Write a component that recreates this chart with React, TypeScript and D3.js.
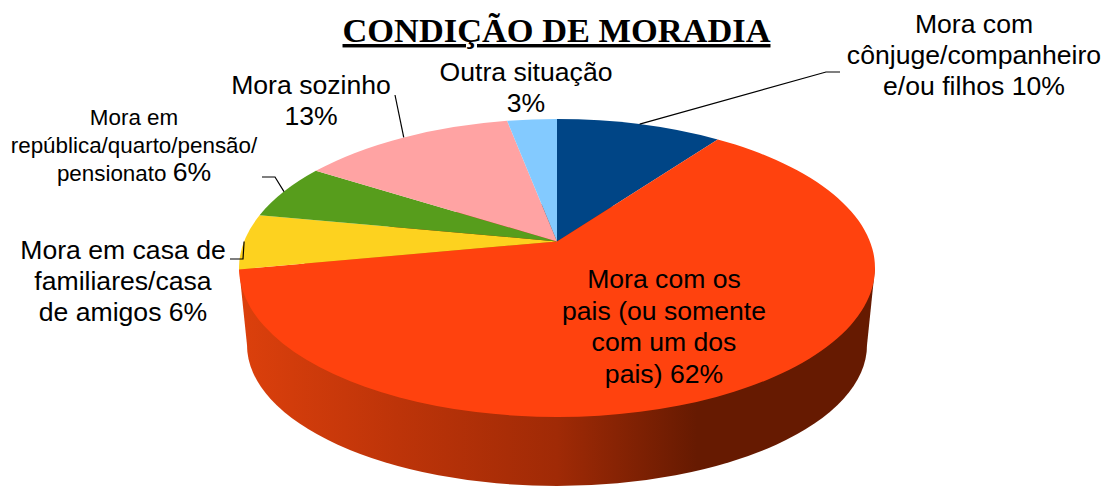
import React from "react";
import * as d3 from "d3";

const categories = [
  "Mora com cônjuge/companheiro e/ou filhos",
  "Mora com os pais (ou somente com um dos pais)",
  "Mora em casa de familiares/casa de amigos",
  "Mora em república/quarto/pensão/pensionato",
  "Mora sozinho",
  "Outra situação",
];
const values = [10, 62, 6, 6, 13, 3];
const colors = ["#004586", "#ff420e", "#fdd21f", "#579d1c", "#ffa3a3", "#83caff"];
const titleText = "CONDIÇÃO DE MORADIA";

const W = 1105, H = 486;
const cx = 557, cy = 268, rx = 318, ry = 149;
const bx = 310, by = 345, bry = 141; // base ellipse of the 3D wall
const persp = 0.835; // perspective squeeze of the tilted disc

// tilted-disc projection: pie angle -> angle on the drawn ellipse
const project = (a: number) => 2 * Math.atan(persp * Math.tan(a / 2));
const onRim = (a: number): [number, number] => {
  const t = project(a);
  return [cx + rx * Math.sin(t), cy - ry * Math.cos(t)];
};
const apex = onRim(Math.PI / 2)[1];

const arcs = d3.pie<number>().sort(null)(values);

const slicePath = (a0: number, a1: number) => {
  const [x0, y0] = onRim(a0);
  const [x1, y1] = onRim(a1);
  const large = project(a1) - project(a0) < 0
    ? (project(a1) + 2 * Math.PI - project(a0) > Math.PI ? 1 : 0)
    : (project(a1) - project(a0) > Math.PI ? 1 : 0);
  return `M${cx},${apex}L${x0},${y0}A${rx},${ry} 0 ${large} 1 ${x1},${y1}Z`;
};

const mids = arcs.map((d) => onRim((d.startAngle + d.endAngle) / 2));

type Label = { x: number; y: number; size: number; lines: (string | [string, string])[]; lh: number };
const labels: Label[] = [
  { x: 974, y: 33, size: 26.6, lh: 31, lines: ["Mora com", "cônjuge/companheiro", "e/ou filhos 10%"] },
  { x: 664, y: 288, size: 26.6, lh: 31.5, lines: ["Mora com os", "pais (ou somente", "com um dos", "pais) 62%"] },
  { x: 123, y: 259, size: 26.6, lh: 31, lines: ["Mora em casa de", "familiares/casa", "de amigos 6%"] },
  { x: 134, y: 125, size: 22.4, lh: 28, lines: ["Mora em", "república/quarto/pensão/", ["pensionato ", "6%"]] },
  { x: 311, y: 94, size: 26.6, lh: 31, lines: ["Mora sozinho", "13%"] },
  { x: 526, y: 81, size: 26.6, lh: 31, lines: ["Outra situação", "3%"] },
];

const leaders: ([number, number] | null)[][] = [
  [[840, 72], [826, 72], null],
  [],
  [[230, 259], [243, 259], null],
  [[262, 177], [275, 177], null],
  [[395, 95], null],
  [],
];

export default function App() {
  const line = d3.line();
  return (
    <svg
      width={W}
      height={H}
      viewBox={`0 0 ${W} ${H}`}
      style={{ position: "fixed", left: 0, top: 0, display: "block", background: "#fff" }}
      fontFamily="'Liberation Sans', Arial, sans-serif"
    >
      <defs>
        <linearGradient id="wall" gradientUnits="userSpaceOnUse" x1={cx - rx} x2={cx + rx} y1={0} y2={0}>
          <stop offset="0" stopColor="#dc400c" />
          <stop offset="0.25" stopColor="#bd3409" />
          <stop offset="0.5" stopColor="#a02a06" />
          <stop offset="0.72" stopColor="#661a01" />
          <stop offset="1" stopColor="#661a01" />
        </linearGradient>
      </defs>

      <g fill="url(#wall)">
        <ellipse cx={cx} cy={by} rx={bx} ry={bry} />
        <path d={`M${cx - rx},${cy}L${cx + rx},${cy}L${cx + bx},${by}L${cx - bx},${by}Z`} />
      </g>

      {arcs.map((d, i) => (
        <path key={categories[i]} d={slicePath(d.startAngle, d.endAngle)} fill={colors[i]} />
      ))}

      {leaders.map((pts, i) =>
        pts.length ? (
          <path
            key={i}
            d={line(pts.map((p) => p ?? mids[i]) as [number, number][]) ?? ""}
            fill="none"
            stroke="#000"
            strokeWidth={1.2}
          />
        ) : null
      )}

      <text
        x={556.5}
        y={42}
        textAnchor="middle"
        fontFamily="'Liberation Serif', serif"
        fontWeight="bold"
        fontSize={34.4}
        textDecoration="underline"
      >
        {titleText}
      </text>

      {labels.map((l, i) => (
        <text key={i} x={l.x} y={l.y} textAnchor="middle" fontSize={l.size} fill="#000">
          {l.lines.map((t, j) => (
            <tspan key={j} x={l.x} dy={j === 0 ? 0 : l.lh}>
              {Array.isArray(t) ? (
                <>
                  {t[0]}
                  <tspan fontSize={26.6}>{t[1]}</tspan>
                </>
              ) : (
                t
              )}
            </tspan>
          ))}
        </text>
      ))}
    </svg>
  );
}
